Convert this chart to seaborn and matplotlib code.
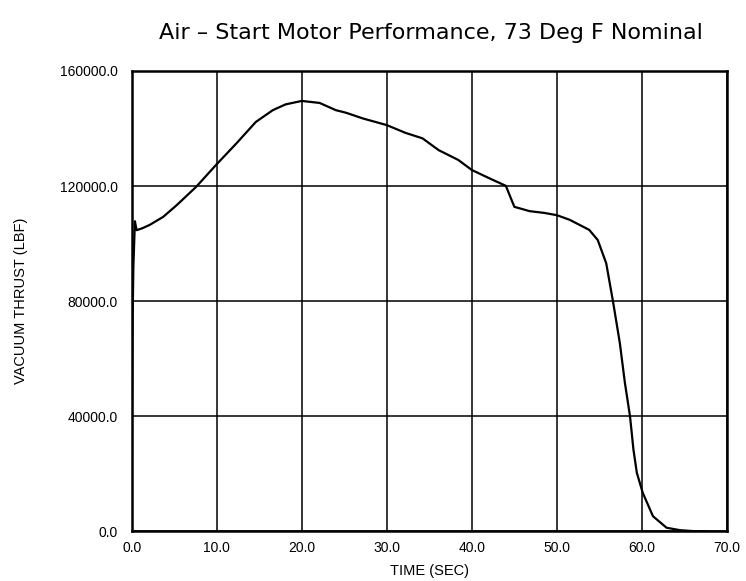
import numpy as np
import pandas as pd
import matplotlib
matplotlib.use("Agg")
import matplotlib.pyplot as plt
import seaborn as sns

# Data
time_sec = [0.0, 0.05, 0.1, 0.2, 0.38, 0.58, 1.2, 2.1, 3.7, 5.3, 7.6, 9.9, 12.3, 14.6,
            16.6, 18.1, 20.0, 22.1, 24.0, 25.2, 27.2, 30.0, 32.2, 34.2, 36.1, 38.4,
            40.0, 42.0, 44.0, 45.0, 46.8, 48.5, 50.0, 51.5, 53.8, 54.8, 55.8, 56.6,
            57.4, 58.0, 58.6, 59.0, 59.4, 60.1, 61.3, 62.9, 64.5, 66.0, 67.6]
thrust_lbf = [0, 45000, 72000, 92000, 107800, 104700, 105300, 106500, 109300, 113400,
              119800, 127300, 134800, 142300, 146400, 148400, 149600, 148900, 146400,
              145500, 143500, 141200, 138500, 136600, 132500, 129100, 125600, 122800,
              120100, 112800, 111300, 110700, 109900, 108300, 104800, 101300, 93200,
              79900, 65500, 51600, 40000, 28500, 20400, 13400, 5300, 1300, 450, 150, 0]

x_ticks = [0, 10, 20, 30, 40, 50, 60, 70]
y_ticks = [0, 40000, 80000, 120000, 160000]
title = "Air \u2013 Start Motor Performance, 73 Deg F Nominal"
x_label = "TIME (SEC)"
y_label = "VACUUM THRUST (LBF)"

df = pd.DataFrame({"t": time_sec, "thrust": thrust_lbf})

sns.set_theme(style="white")
plt.rcParams["font.family"] = ["Liberation Sans", "DejaVu Sans"]

fig = plt.figure(figsize=(7.46, 5.81), dpi=100)
ax = fig.add_axes([0.1765, 0.0852, 0.7980, 0.7926])

sns.lineplot(data=df, x="t", y="thrust", ax=ax, color="black", linewidth=1.6,
             sort=False, estimator=None)

ax.set_xlim(0, 70)
ax.set_ylim(0, 160000)
ax.set_xticks(x_ticks)
ax.set_xticklabels([f"{v:.1f}" for v in x_ticks], fontsize=10)
ax.set_yticks(y_ticks)
ax.set_yticklabels([f"{v:.1f}" for v in y_ticks], fontsize=10)
ax.tick_params(axis="x", length=0, pad=7, colors="black")
ax.tick_params(axis="y", length=0, pad=10, colors="black")
ax.grid(True, color="black", linewidth=1.1)
for s in ax.spines.values():
    s.set_visible(True)
    s.set_color("black")
    s.set_linewidth(1.8)

ax.set_xlabel(x_label, fontsize=10.5, labelpad=6, color="black")
ax.set_ylabel(y_label, fontsize=10.5, labelpad=23, color="black")
fig.text(0.5775, 0.944, title, ha="center", va="center", fontsize=16,
         color="black", family="DejaVu Sans")

fig.savefig("out.png", dpi=100, facecolor="white")
